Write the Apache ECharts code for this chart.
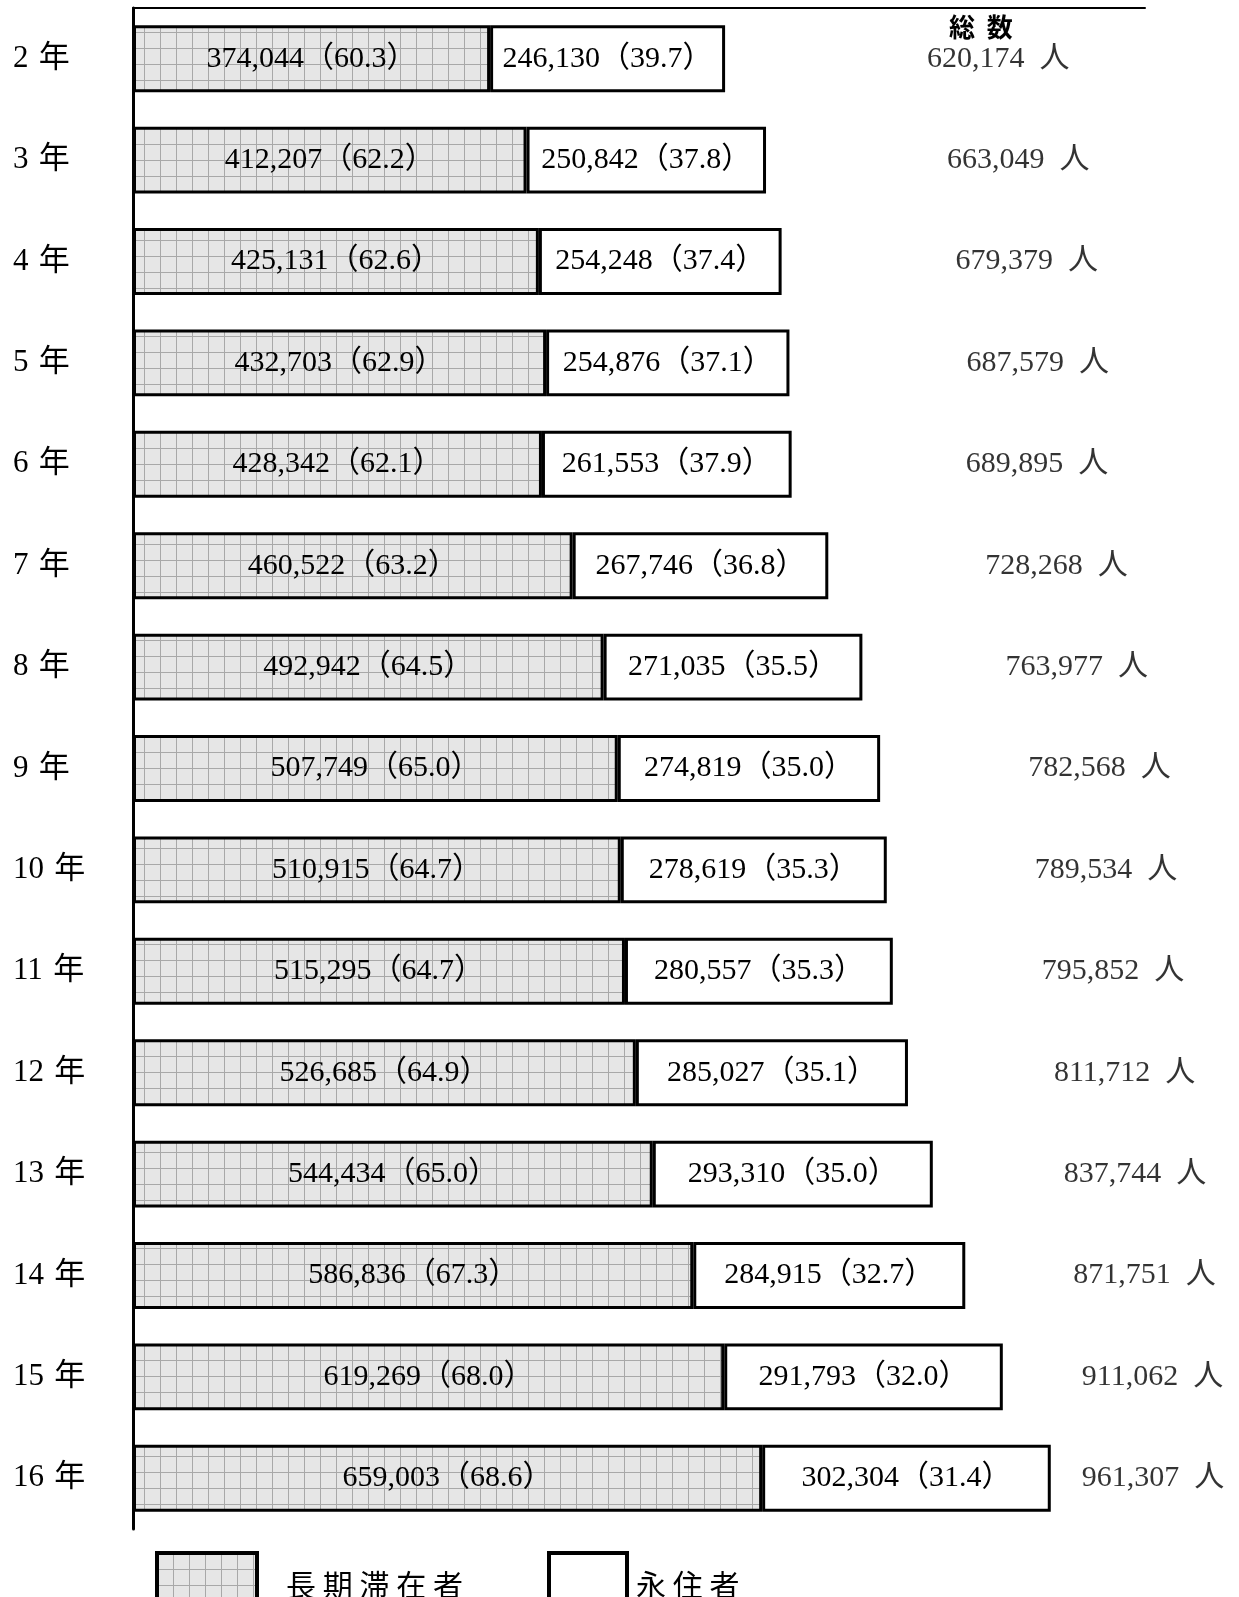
<!DOCTYPE html>
<html>
<head>
<meta charset="utf-8">
<script src="https://cdn.jsdelivr.net/npm/echarts@6/dist/echarts.min.js"></script>
<style>
html,body{margin:0;padding:0;background:#fff;}
#chart{width:1239px;height:1597px;}
</style>
</head>
<body>
<div id="chart"></div>
<script>
// ---- data ----
const years = ['2 年','3 年','4 年','5 年','6 年','7 年','8 年','9 年','10 年','11 年','12 年','13 年','14 年','15 年','16 年'];
const longStay = [374044,412207,425131,432703,428342,460522,492942,507749,510915,515295,526685,544434,586836,619269,659003];
const longStayPct = [60.3,62.2,62.6,62.9,62.1,63.2,64.5,65.0,64.7,64.7,64.9,65.0,67.3,68.0,68.6];
const permanent = [246130,250842,254248,254876,261553,267746,271035,274819,278619,280557,285027,293310,284915,291793,302304];
const permanentPct = [39.7,37.8,37.4,37.1,37.9,36.8,35.5,35.0,35.3,35.3,35.1,35.0,32.7,32.0,31.4];
const seriesNames = ['長期滞在者','永住者'];

// ---- layout (label gaps to the right of each bar, px) ----
const totalLabelGap = [202,181,174,177,174,157,143,148,148,149,146,131,108,79,31];

const totals = longStay.map((v, i) => v + permanent[i]);
const fmt = n => n.toLocaleString('en-US');
const SERIF = '"Liberation Serif","Times New Roman","Noto Sans CJK JP",serif';
const GOTHIC = '"Noto Sans CJK JP",sans-serif';

// grid pattern for 長期滞在者
function makePattern() {
  const c = document.createElement('canvas');
  c.width = 16; c.height = 16;
  const g = c.getContext('2d');
  g.fillStyle = '#e6e6e6';
  g.fillRect(0, 0, 16, 16);
  g.fillStyle = '#a8a8a8';
  g.fillRect(0, 0, 16, 1);
  g.fillRect(0, 0, 1, 16);
  return c;
}
const pattern = { image: makePattern(), repeat: 'repeat' };

const chart = echarts.init(document.getElementById('chart'), null, { renderer: 'canvas' });

const option = {
  animation: false,
  backgroundColor: '#fff',
  title: {
    text: '総  数',
    left: 944, top: 9,
    textStyle: { fontFamily: GOTHIC, fontSize: 26, fontWeight: 'bold', color: '#000' }
  },
  grid: { left: 133, right: 94, top: 8, height: 1521 },
  xAxis: {
    type: 'value', position: 'top', min: 0, max: 1060000,
    axisLine: { show: true, lineStyle: { color: '#000', width: 2 } },
    axisTick: { show: false }, axisLabel: { show: false }, splitLine: { show: false }
  },
  yAxis: {
    type: 'category', data: years, inverse: true,
    axisLine: { show: true, lineStyle: { color: '#000', width: 3 } },
    axisTick: { show: false },
    axisLabel: {
      align: 'left', margin: 120, fontFamily: SERIF, fontSize: 31, color: '#000',
      formatter: v => v.replace(' ', ' \u200a')
    }
  },
  legend: [
    {
      data: [seriesNames[0]], left: 150, top: 1546, itemWidth: 100, itemHeight: 64,
      icon: 'rect', selectedMode: false,
      itemStyle: { color: pattern, borderColor: '#000', borderWidth: 4 },
      formatter: n => n.split('').join(' '),
      textStyle: { fontFamily: GOTHIC, fontSize: 30, color: '#000', padding: [0, 0, 0, 24] }
    },
    {
      data: [seriesNames[1]], left: 542, top: 1546, itemWidth: 78, itemHeight: 64,
      icon: 'rect', selectedMode: false,
      itemStyle: { color: '#fff', borderColor: '#000', borderWidth: 4 },
      formatter: n => n.split('').join(' '),
      textStyle: { fontFamily: GOTHIC, fontSize: 30, color: '#000', padding: [0, 0, 0, 4] }
    }
  ],
  series: [
    {
      name: seriesNames[0], type: 'bar', stack: 'total', barCategoryGap: '34%',
      data: longStay,
      itemStyle: { color: pattern, borderColor: '#000', borderWidth: 3 },
      label: {
        show: true, position: 'inside', color: '#000', fontFamily: SERIF, fontSize: 30,
        formatter: p => fmt(p.value) + '（' + longStayPct[p.dataIndex].toFixed(1) + '）'
      }
    },
    {
      name: seriesNames[1], type: 'bar', stack: 'total', barCategoryGap: '34%',
      data: permanent,
      itemStyle: { color: '#fff', borderColor: '#000', borderWidth: 3 },
      label: {
        show: true, position: 'inside', color: '#000', fontFamily: SERIF, fontSize: 30,
        formatter: p => fmt(p.value) + '（' + permanentPct[p.dataIndex].toFixed(1) + '）'
      }
    },
    {
      name: '総数', type: 'scatter', symbolSize: 0, silent: true,
      data: totals.map((t, i) => ({
        value: [t, years[i]],
        label: { distance: totalLabelGap[i] }
      })),
      label: {
        show: true, position: 'right', color: '#000', fontFamily: SERIF, fontSize: 30,
        formatter: p => fmt(p.value[0]) + '  人'
      }
    }
  ]
};
chart.setOption(option);
</script>
</body>
</html>
